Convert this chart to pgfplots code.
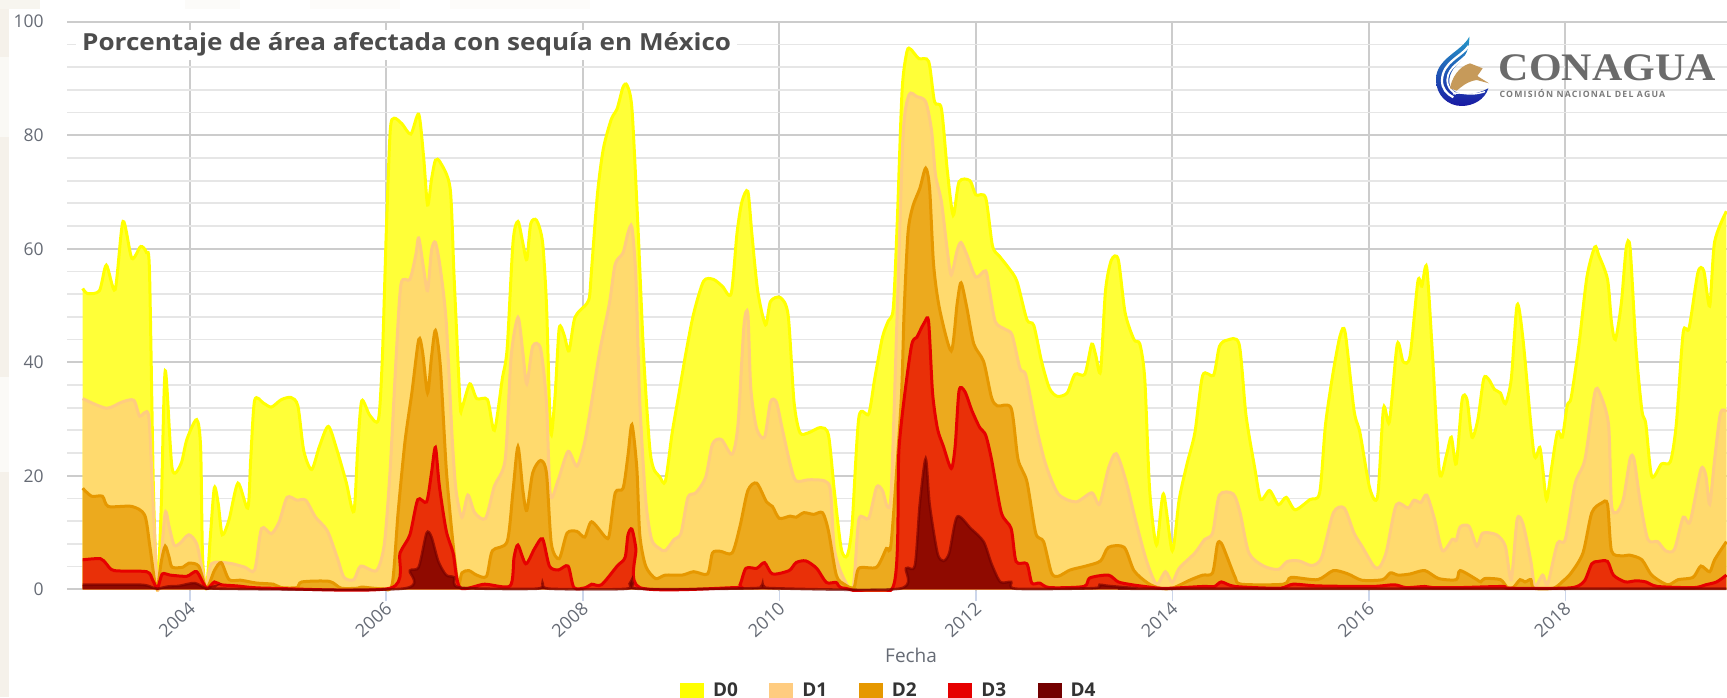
\documentclass[border=0pt]{standalone}
\usepackage{graphicx}
\usepackage{pgfplots}
\usepackage{pgfplotstable}
\usepackage{fontspec}
\setmainfont{Open Sans}
\newfontfamily\logofont{Liberation Serif}
\pgfplotsset{compat=1.18}
\definecolor{lnA}{HTML}{FFFF00}\definecolor{fiA}{HTML}{FFFF38}
\definecolor{lnB}{HTML}{FFCC80}\definecolor{fiB}{HTML}{FFDA6E}
\definecolor{lnC}{HTML}{E69800}\definecolor{fiC}{HTML}{ECAA1E}
\definecolor{lnD}{HTML}{E60000}\definecolor{fiD}{HTML}{E93008}
\definecolor{lnE}{HTML}{730000}\definecolor{fiE}{HTML}{8F0A00}
\definecolor{gmaj}{HTML}{CCCCCC}\definecolor{gmin}{HTML}{E6E6E6}
\definecolor{txt}{HTML}{666B75}\definecolor{beige}{HTML}{EFEADF}
\definecolor{tickc}{HTML}{CCD6EB}
\pgfplotstableread{
x y
2002.91 53.0
2002.96 52.1
2003.08 52.6
2003.15 57.1
2003.24 52.8
2003.32 64.8
2003.41 58.3
2003.50 60.4
2003.56 59.3
2003.59 55.8
2003.63 17.4
2003.67 0.2
2003.71 15
2003.75 38.5
2003.82 21.3
2003.91 22.1
2003.97 26.4
2004.07 29.9
2004.11 25
2004.13 5.6
2004.17 0.2
2004.21 9.5
2004.25 17.9
2004.29 15
2004.33 9.6
2004.40 12.3
2004.49 18.7
2004.59 14.3
2004.62 22.9
2004.66 33.3
2004.75 32.8
2004.83 32.1
2004.93 33.4
2005.03 33.8
2005.10 32.3
2005.16 24.4
2005.24 21.1
2005.32 25.2
2005.41 28.7
2005.50 24.4
2005.59 19
2005.67 13.7
2005.71 25.2
2005.75 33.2
2005.83 30.7
2005.92 29.9
2005.96 40.9
2006.00 63
2006.04 80.8
2006.08 83.0
2006.16 82
2006.25 80.2
2006.33 83.7
2006.38 76.1
2006.42 67.7
2006.46 72.2
2006.50 75.6
2006.55 75.2
2006.65 70.6
2006.69 55
2006.75 33
2006.77 31.9
2006.85 36.2
2006.92 33.6
2007.03 33.4
2007.10 28
2007.18 37
2007.23 42.4
2007.29 61.2
2007.34 64.8
2007.39 61
2007.43 58.1
2007.47 64.4
2007.53 65
2007.59 61.2
2007.63 50.3
2007.66 33
2007.68 27.2
2007.72 34.6
2007.76 46
2007.81 44.8
2007.86 42
2007.92 47.9
2008.04 50.3
2008.07 51.8
2008.09 56.5
2008.15 69.8
2008.21 77.7
2008.29 82.8
2008.35 84.7
2008.41 88.5
2008.45 88.8
2008.50 84.7
2008.56 64.4
2008.62 40.9
2008.68 25.2
2008.72 21.3
2008.78 19.9
2008.84 19
2008.91 27.6
2008.98 34.6
2009.05 41.7
2009.13 48.7
2009.23 54.3
2009.33 54.6
2009.42 53.4
2009.51 52.1
2009.57 62.8
2009.62 68.3
2009.68 70.1
2009.72 62.8
2009.78 52.6
2009.86 46.6
2009.91 50.7
2010.01 51.4
2010.09 48.3
2010.15 33
2010.21 27.6
2010.30 27.6
2010.42 28.5
2010.50 27.2
2010.56 17.4
2010.63 7.2
2010.69 5.9
2010.74 11.1
2010.81 30.3
2010.91 30.9
2010.97 37
2011.05 44.4
2011.11 47.3
2011.16 49.5
2011.20 64.4
2011.25 87.9
2011.30 94.8
2011.34 95.1
2011.42 93.5
2011.52 93
2011.58 85.9
2011.65 84.7
2011.71 73.8
2011.77 65.9
2011.83 71.8
2011.94 72
2012.00 69.5
2012.10 69
2012.17 60.5
2012.24 58.7
2012.34 56.5
2012.42 54.2
2012.52 47.5
2012.59 46.5
2012.67 40.1
2012.75 35.4
2012.83 34
2012.93 34.6
2013.01 37.9
2013.11 37.9
2013.18 43.2
2013.22 41.3
2013.27 38.4
2013.32 52.6
2013.38 58
2013.45 58.1
2013.52 48.7
2013.61 44
2013.67 43.2
2013.72 37
2013.77 17.4
2013.84 7.8
2013.91 16.8
2014.00 6.8
2014.07 15.8
2014.15 22.1
2014.23 27.6
2014.31 37.7
2014.42 37.7
2014.48 42.8
2014.56 43.9
2014.68 43.2
2014.75 30.7
2014.84 21.3
2014.90 15.8
2014.99 17.4
2015.08 14.9
2015.16 16.2
2015.25 14
2015.40 15.8
2015.50 17
2015.56 29.1
2015.64 38.5
2015.71 44.8
2015.76 45.2
2015.85 31.5
2015.91 27.6
2016.01 17.8
2016.09 16.4
2016.15 31.9
2016.21 29.5
2016.29 43.2
2016.35 40.1
2016.42 41.1
2016.50 54.3
2016.54 53.4
2016.59 56.7
2016.65 40.9
2016.72 20.5
2016.79 23.6
2016.84 26.8
2016.89 22.1
2016.95 33.4
2017.00 33.4
2017.05 26.8
2017.11 29.9
2017.17 37.1
2017.22 37
2017.28 35.2
2017.34 34.6
2017.39 32.7
2017.45 37
2017.51 50.1
2017.57 44
2017.68 24
2017.74 25
2017.77 21.3
2017.81 15.8
2017.86 21.3
2017.92 27.7
2017.97 26.8
2018.02 32.4
2018.06 33.8
2018.14 43.2
2018.22 55
2018.30 60.3
2018.34 58.9
2018.43 54.6
2018.47 47.1
2018.51 44
2018.57 50.3
2018.62 60.1
2018.66 60.1
2018.72 42.4
2018.78 31.5
2018.82 29.1
2018.88 19.9
2018.98 22.1
2019.07 22.5
2019.13 29.1
2019.20 45.2
2019.26 46
2019.35 55.8
2019.41 56.1
2019.47 49.9
2019.52 61.2
2019.64 66.6
}\tA
\pgfplotstableread{
x y
2002.91 33.6
2003.15 31.9
2003.31 33
2003.43 33.3
2003.49 30.5
2003.58 30.7
2003.62 17.4
2003.67 0.2
2003.70 4
2003.75 13.5
2003.79 11
2003.84 7.8
2003.90 8.1
2003.99 9.6
2004.07 8
2004.13 3.3
2004.17 0.2
2004.22 4.5
2004.40 4.6
2004.56 3.9
2004.66 3.4
2004.73 10.7
2004.83 9.8
2004.91 11.9
2004.99 16.2
2005.09 15.7
2005.18 15.7
2005.28 12.7
2005.40 10.3
2005.50 5.6
2005.57 2.1
2005.67 1.7
2005.74 4.1
2005.90 3.3
2005.98 8
2006.04 21.3
2006.10 40.9
2006.15 53.8
2006.24 54.6
2006.30 58.9
2006.33 61.9
2006.38 56.5
2006.42 52.6
2006.46 59.7
2006.50 61.1
2006.55 56.5
2006.61 47.1
2006.67 26.8
2006.71 17.4
2006.77 12.7
2006.83 16.6
2006.90 13.5
2007.01 12.5
2007.10 18.2
2007.21 22.9
2007.27 40.9
2007.34 47.9
2007.39 41.7
2007.43 36.2
2007.49 42.8
2007.57 42.4
2007.63 33
2007.67 16.6
2007.75 19.3
2007.85 24.3
2007.94 21.7
2008.02 26
2008.09 33
2008.17 41.7
2008.27 50.3
2008.33 57.3
2008.41 59.3
2008.46 62.8
2008.50 63.8
2008.54 55
2008.58 33
2008.64 15.8
2008.70 8.8
2008.78 7.2
2008.84 6.8
2008.93 8.8
2009.00 9.9
2009.07 16.2
2009.15 17
2009.25 19.7
2009.32 25.6
2009.41 26.4
2009.52 23.8
2009.58 29.1
2009.64 46.4
2009.68 48.5
2009.71 35.4
2009.77 28.3
2009.85 26.8
2009.91 33
2009.97 33
2010.03 28.3
2010.11 22.1
2010.17 19.1
2010.30 19.3
2010.46 19.1
2010.52 17.4
2010.56 7.2
2010.64 2.5
2010.75 0.3
2010.81 12.3
2010.91 12.5
2010.99 18
2011.05 17.4
2011.10 14.6
2011.14 17.4
2011.20 48.7
2011.26 80
2011.32 87.1
2011.40 86.8
2011.49 85.9
2011.55 80.8
2011.59 73
2011.65 68.3
2011.71 59.7
2011.75 55.4
2011.81 59.7
2011.85 61.1
2011.91 58.9
2012.00 55
2012.10 56.1
2012.14 52.6
2012.20 47.1
2012.30 45.8
2012.37 44.8
2012.45 38.9
2012.51 37.7
2012.61 29.1
2012.71 22.1
2012.84 16.8
2013.02 15.4
2013.18 17
2013.26 15
2013.35 21.3
2013.43 23.9
2013.53 19
2013.63 11.9
2013.74 4.9
2013.84 0.9
2013.93 3.1
2014.00 1.2
2014.07 3.7
2014.23 6.4
2014.33 8.8
2014.41 9.9
2014.48 16.6
2014.62 16.8
2014.69 13.5
2014.78 6.4
2014.93 4.1
2015.08 3.5
2015.17 4.9
2015.29 5
2015.42 4.2
2015.52 5.6
2015.64 13.5
2015.75 14.3
2015.85 9.9
2015.93 7.6
2016.05 4.1
2016.11 3.9
2016.18 6.7
2016.28 14.9
2016.40 14.3
2016.46 15.7
2016.53 15.3
2016.59 16.6
2016.67 12.3
2016.75 6.8
2016.85 8.8
2016.89 8.6
2016.93 11
2017.02 11.1
2017.10 7.6
2017.16 9.9
2017.30 9.6
2017.39 7.6
2017.45 1.7
2017.51 12.3
2017.57 11.5
2017.65 4.9
2017.69 0.5
2017.77 2.5
2017.82 0.9
2017.92 8.1
2018.00 8.8
2018.10 18.6
2018.20 22.9
2018.30 34.6
2018.35 34.6
2018.44 29.1
2018.47 15
2018.52 13.5
2018.59 15.8
2018.66 23
2018.70 22.9
2018.76 15.8
2018.84 8.8
2018.94 8.4
2019.02 6.8
2019.11 7
2019.20 12.7
2019.27 11.9
2019.38 21.1
2019.43 20.1
2019.47 15
2019.52 22.9
2019.58 31.1
2019.64 31.3
}\tB
\pgfplotstableread{
x y
2002.91 17.8
2003.00 16.4
2003.11 16.4
2003.17 14.6
2003.41 14.6
2003.54 13.1
2003.59 8
2003.64 1.7
2003.67 0.2
2003.71 4.9
2003.75 7.6
2003.79 5.6
2003.82 3.9
2003.93 3.9
2003.99 4.6
2004.09 4.1
2004.17 0.2
2004.25 3.3
2004.32 4.7
2004.40 1.7
2004.52 1.6
2004.68 1.1
2004.85 0.9
2004.93 0.3
2005.09 0.3
2005.14 1.3
2005.42 1.4
2005.54 0.2
2005.71 0.2
2005.75 0.4
2005.96 0.1
2006.06 0.9
2006.12 13.5
2006.19 26
2006.26 34.6
2006.33 44
2006.37 41.7
2006.42 34.6
2006.46 40.9
2006.50 45.6
2006.55 39.3
2006.61 21.3
2006.67 9.6
2006.73 0.9
2006.77 2.9
2006.84 3.3
2006.92 2.5
2007.02 2.3
2007.08 6.8
2007.23 8.4
2007.29 17.4
2007.34 25.1
2007.39 17.4
2007.43 13.9
2007.49 20.5
2007.57 22.7
2007.63 20.5
2007.68 8
2007.76 5.4
2007.84 9.9
2007.94 10.2
2008.02 9.2
2008.09 11.9
2008.23 9.2
2008.27 9.6
2008.33 17
2008.41 17.8
2008.46 23.6
2008.50 29
2008.55 21.3
2008.58 9.6
2008.64 4.1
2008.74 1.9
2008.84 2.5
2009.01 2.5
2009.13 3.1
2009.27 2.7
2009.32 6.4
2009.40 6.7
2009.52 6.4
2009.60 11.1
2009.68 17.4
2009.77 18.7
2009.87 15.4
2009.93 14.6
2010.00 12.5
2010.11 12.9
2010.17 12.7
2010.25 13.5
2010.35 13.2
2010.44 13.5
2010.50 10.3
2010.58 2.5
2010.66 0.9
2010.76 0.3
2010.81 3.7
2010.99 3.9
2011.09 7.2
2011.14 8.4
2011.24 33
2011.27 48.7
2011.31 62.8
2011.36 67.5
2011.43 70.6
2011.49 74.2
2011.53 70.6
2011.57 57.3
2011.63 49.5
2011.75 42
2011.81 50.3
2011.85 54
2011.91 49.5
2011.98 43.2
2012.08 40.1
2012.16 33.8
2012.22 32.3
2012.36 31.9
2012.43 22.9
2012.52 19
2012.61 9.9
2012.69 8.4
2012.77 2.9
2012.84 2.3
2012.96 3.4
2013.12 4.1
2013.27 5
2013.35 7.4
2013.51 7.4
2013.61 3.3
2013.75 1.1
2013.87 0.2
2014.00 0.2
2014.19 1.7
2014.31 2.5
2014.41 2.9
2014.46 8
2014.50 8.1
2014.56 5.6
2014.64 2.1
2014.70 0.9
2015.13 0.9
2015.21 2.1
2015.48 1.7
2015.64 3.3
2015.79 2.7
2015.93 1.6
2016.14 1.7
2016.22 2.9
2016.30 2.5
2016.42 2.7
2016.57 3.3
2016.71 1.9
2016.89 1.7
2016.93 3.3
2017.10 1.7
2017.14 1.3
2017.18 1.9
2017.34 1.7
2017.41 0.3
2017.47 0.3
2017.54 1.7
2017.59 1.3
2017.65 1.7
2017.68 0.2
2017.88 0.2
2017.98 1.5
2018.06 2.9
2018.18 6.4
2018.27 13.5
2018.37 15.2
2018.43 15
2018.47 6.8
2018.57 5.9
2018.66 6
2018.78 5.2
2018.88 2.5
2019.04 0.8
2019.15 1.7
2019.30 2.1
2019.38 4.1
2019.47 3.1
2019.52 5.2
2019.64 8.4
}\tC
\pgfplotstableread{
x y
2002.91 5.2
2003.09 5.4
2003.15 4.5
2003.23 3.3
2003.56 3.1
2003.62 1.7
2003.67 0.2
2003.72 2.7
2003.80 2.5
2003.97 2.3
2004.07 3.1
2004.17 0.2
2004.25 1.3
2004.32 0.8
2004.48 0.6
2004.79 0.2
2006.04 0.2
2006.14 6.4
2006.24 9.6
2006.32 15.8
2006.41 15.4
2006.46 20.5
2006.50 25
2006.54 18.2
2006.61 10.3
2006.68 6.4
2006.75 0.3
2007.00 0.9
2007.26 0.6
2007.30 5.6
2007.34 7.8
2007.42 4.5
2007.51 7.2
2007.59 8.9
2007.66 4.1
2007.75 3.4
2007.85 4.1
2007.91 0.3
2008.03 0.3
2008.09 0.9
2008.19 0.8
2008.35 4.1
2008.43 5.6
2008.46 9.6
2008.50 10.6
2008.54 7.2
2008.58 0.3
2009.54 0.3
2009.60 0.8
2009.66 3.7
2009.77 3.7
2009.85 4.7
2009.93 2.7
2010.10 3.3
2010.17 4.7
2010.27 5
2010.38 3.7
2010.48 1.2
2010.58 1.2
2010.66 0.2
2011.16 0.5
2011.22 25.2
2011.34 42.4
2011.40 44.4
2011.48 47.1
2011.52 47.1
2011.56 34.6
2011.61 28.3
2011.67 25.2
2011.75 21.3
2011.79 25.2
2011.83 35
2011.89 34.8
2011.96 31.5
2012.04 28.5
2012.10 27.2
2012.16 22.9
2012.26 13.5
2012.36 10.7
2012.41 4.9
2012.52 4.5
2012.57 1.1
2012.65 1.1
2012.75 0.3
2013.10 0.5
2013.16 2
2013.35 2.5
2013.45 1.3
2013.59 0.8
2013.72 0.5
2013.86 0.2
2014.00 0.2
2014.31 0.5
2014.43 0.5
2014.50 1.3
2014.64 0.5
2015.09 0.2
2015.23 0.9
2015.48 0.6
2016.03 0.5
2016.26 0.8
2016.38 0.3
2016.57 0.5
2016.65 0.3
2016.92 0.3
2017.36 0.5
2017.43 0.2
2017.98 0.2
2018.12 0.5
2018.20 1.6
2018.27 4.5
2018.33 4.9
2018.43 4.9
2018.49 2.5
2018.61 1.3
2018.72 1.5
2018.82 1.3
2018.94 0.5
2019.31 0.3
2019.43 0.8
2019.54 1.3
2019.64 2.5
}\tD
\pgfplotstableread{
x y
2002.91 0.8
2003.50 0.8
2003.62 0.3
2003.67 0.1
2003.78 0.5
2003.89 0.6
2004.05 1.1
2004.17 0.1
2004.25 0.5
2004.32 0.1
2006.16 0.1
2006.24 3.3
2006.33 3.9
2006.41 9.9
2006.46 9.2
2006.53 4.9
2006.61 2.5
2006.69 2.1
2006.75 0.3
2007.53 0.1
2007.59 1.1
2007.66 0.1
2008.45 0.1
2008.50 1.7
2008.56 0.1
2009.75 0.2
2009.83 0.9
2009.92 0.2
2011.22 0.1
2011.29 3.7
2011.38 4.2
2011.43 15
2011.49 23
2011.53 15
2011.61 6.4
2011.67 5
2011.73 6.4
2011.81 12.8
2011.95 10.7
2012.08 8.4
2012.16 4.5
2012.25 1.3
2012.36 1.3
2012.41 0.1
2013.20 0.2
2013.26 0.8
2013.35 0.6
2013.63 0.2
2013.82 0.1
2019.64 0.1
}\tE
\begin{document}
\begin{tikzpicture}[x=1pt,y=1pt]
\path[use as bounding box] (0,0) rectangle (1727,697);
\clip (0,0) rectangle (1727,697);
% pale page background at the edges
\fill[white!35!beige] (0,0) rectangle (9,697);
\fill[white!70!beige] (0,560) rectangle (9,640);
\fill[white!75!beige] (0,225) rectangle (9,320);
\fill[white!50!beige] (0,697) rectangle (40,688);
\fill[white!80!beige] (185,697) rectangle (240,688);
\fill[white!85!beige] (310,697) rectangle (400,688);
\fill[white!85!beige] (450,697) rectangle (590,688);
\begin{axis}[
  at={(67pt,107.7pt)},anchor=origin,
  name=main,scale only axis,width=1660pt,height=569.3pt,
  xmin=2002.75,xmax=2019.646,ymin=-0.3,ymax=100,
  xtick={2004,2006,...,2018},ytick={0,20,...,100},minor y tick num=4,
  xtick pos=bottom,ytick pos=left,
  /pgf/number format/1000 sep={},/pgf/number format/assume math mode=true,
  axis line style={draw=none},
  tick align=outside,major tick length=10pt,
  xtick style={draw=tickc,line width=1.6pt},
  ytick style={draw=none},minor tick style={draw=none},
  xmajorgrids,ymajorgrids,yminorgrids,
  x grid style={draw=gmaj,line width=2.2pt},
  major grid style={draw=gmaj,line width=1.8pt},
  minor grid style={draw=gmin,line width=1.8pt},
  tick label style={font=\fontsize{17.5}{20}\selectfont,text=txt},
  xticklabel style={rotate=42,anchor=north east,font=\fontsize{18}{20}\selectfont,xshift=2pt,yshift=5pt},
  yticklabel style={xshift=-10pt},
  xlabel={Fecha},
  every axis x label/.style={at={(axis description cs:0.5085,-0.1136)},anchor=center,font=\fontsize{19}{21}\selectfont,text=txt},
  title={\scalebox{1.11}[1]{\textbf{Porcentaje de área afectada con sequía en México}}},
  every axis title/.style={at={(axis description cs:0.0054,0.9596)},anchor=west,fill=white,inner xsep=6pt,inner ysep=3pt,font=\fontsize{23.5}{26}\selectfont,text=black!70},
  legend image code/.code={\fill[#1,draw=none] (0pt,-8pt) rectangle (24pt,8pt);},
  legend style={at={(axis description cs:0.3693,-0.1751)},anchor=west,draw=none,fill=none,inner sep=0pt,outer sep=0pt,legend columns=5,font=\fontsize{19}{21}\selectfont\bfseries,text=black!80,
    nodes={inner sep=0pt,anchor=west},
    /tikz/every even column/.append style={column sep=31.5pt},
    /tikz/every odd column/.append style={column sep=9pt}},
  every axis plot/.append style={forget plot},
]
\addlegendimage{fill=lnA}\addlegendentry{D0}
\addlegendimage{fill=lnB}\addlegendentry{D1}
\addlegendimage{fill=lnC}\addlegendentry{D2}
\addlegendimage{fill=lnD}\addlegendentry{D3}
\addlegendimage{fill=lnE}\addlegendentry{D4}
\addplot[smooth,tension=0.45,draw=none,fill=fiA] table[x=x,y=y] {\tA} \closedcycle;
\addplot[smooth,tension=0.45,lnA,line width=3pt] table[x=x,y=y] {\tA};
\addplot[smooth,tension=0.45,draw=none,fill=fiB] table[x=x,y=y] {\tB} \closedcycle;
\addplot[smooth,tension=0.45,lnB,line width=3pt] table[x=x,y=y] {\tB};
\addplot[smooth,tension=0.45,draw=none,fill=fiC] table[x=x,y=y] {\tC} \closedcycle;
\addplot[smooth,tension=0.45,lnC,line width=3pt] table[x=x,y=y] {\tC};
\addplot[smooth,tension=0.45,draw=none,fill=fiD] table[x=x,y=y] {\tD} \closedcycle;
\addplot[smooth,tension=0.45,lnD,line width=3pt] table[x=x,y=y] {\tD};
\addplot[smooth,tension=0.45,draw=none,fill=fiE] table[x=x,y=y] {\tE} \closedcycle;
\addplot[smooth,tension=0.45,lnE,opacity=0.65,line width=2.6pt] table[x=x,y=y] {\tE};
\end{axis}
% logo (zoom coordinates: 3 units per pixel)
\begin{scope}[shift={(1420,677)},x=0.3333pt,y=-0.3333pt]
\shade[top color=blue!30!cyan!75!black!85,bottom color=blue!60!black!90] (148,50) .. controls (125,95) and (48,115) .. (48,178) .. controls (48,228) and (85,258) .. (125,258) .. controls (160,258) and (195,238) .. (205,205) .. controls (170,225) and (125,228) .. (100,212) .. controls (80,195) and (85,160) .. (110,135) .. controls (125,118) and (148,105) .. (148,50) -- cycle;
\draw[white,line width=2.2pt] (146,78) .. controls (125,110) and (68,125) .. (66,180) .. controls (65,205) and (80,222) .. (100,232);
\draw[white,line width=1.8pt] (146,98) .. controls (125,125) and (84,140) .. (82,178) .. controls (81,200) and (92,212) .. (108,222);
\definecolor{eagle}{HTML}{C69A5A}
\fill[eagle] (90,205) .. controls (95,175) and (115,140) .. (150,130) -- (188,145) -- (172,168) -- (207,190) -- (170,180) .. controls (140,185) and (125,200) .. (110,212) -- cycle;
\draw[white,line width=1.4pt] (100,222) .. controls (125,212) and (140,232) .. (195,215);
\node[anchor=west,inner sep=0pt,text=black!58] at (236,142) {\scalebox{1.076}[1]{\logofont\fontsize{39}{40}\selectfont\bfseries CONAGUA}};
\node[anchor=west,inner sep=0pt,text=black!52] at (238,220) {\fontsize{8.7}{10}\selectfont\bfseries\addfontfeatures{LetterSpace=14}COMISIÓN NACIONAL DEL AGUA};
\end{scope}
\end{tikzpicture}
\end{document}
